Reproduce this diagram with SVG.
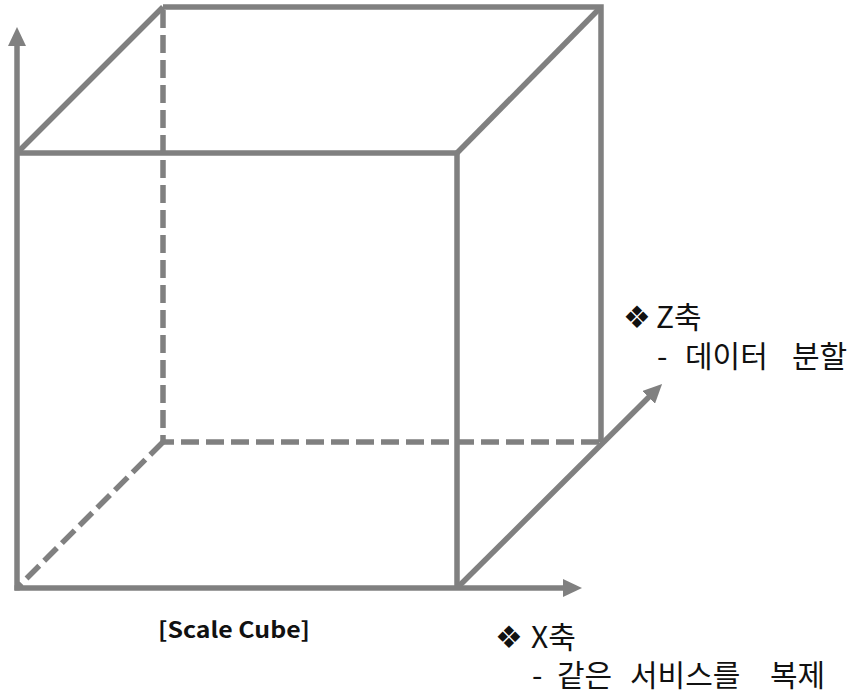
<svg xmlns="http://www.w3.org/2000/svg" width="856" height="694" viewBox="0 0 856 694">
  <style>
    .edge { stroke: #808080; stroke-width: 5.5; fill: none; stroke-linecap: butt; stroke-linejoin: miter; }
    .dash { stroke-dasharray: 18 7; }
    .lbl { font-family: "Noto Sans CJK KR", "Noto Sans", sans-serif; font-size: 30px; fill: #111; }
    .sym { font-family: "DejaVu Sans", sans-serif; font-size: 31px; }
    .title { font-family: "Noto Sans CJK KR", "Noto Sans", sans-serif; font-size: 22px; font-weight: bold; fill: #111; }
  </style>
  <defs>
    <marker id="arrow" markerUnits="userSpaceOnUse" viewBox="0 0 19 18" markerWidth="19" markerHeight="18" refX="9" refY="9" orient="auto">
      <polygon points="0,0 19,9 0,18" fill="#808080"/>
    </marker>
  </defs>
  <rect width="856" height="694" fill="#ffffff"/>

  <g id="cube">
    <g id="back-face">
      <path class="edge" d="M163,7 H601 V442"/>
      <path class="edge dash" d="M163,10 V442 H601"/>
      <path class="edge dash" d="M163,442 L17,588"/>
    </g>
    <g id="front-face">
      <path class="edge" d="M17,153 H457 V588"/>
      <path class="edge" d="M17,153 L163,7"/>
      <path class="edge" d="M457,153 L601,7"/>
    </g>
  </g>

  <g id="connectors">
    <line class="edge" x1="17" y1="590.5" x2="17" y2="37" marker-end="url(#arrow)"/>
    <line class="edge" x1="14.5" y1="588" x2="572" y2="588" marker-end="url(#arrow)"/>
    <line class="edge" x1="457" y1="588" x2="655" y2="391" marker-end="url(#arrow)"/>
  </g>

  <g id="z-axis-label">
    <text class="lbl" y="328"><tspan class="sym" x="623">❖</tspan><tspan x="656">Z축</tspan></text>
    <text class="lbl" y="367"><tspan x="657">-</tspan><tspan x="685">데이터</tspan><tspan x="792">분할</tspan></text>
  </g>

  <g id="x-axis-label">
    <text class="lbl" y="648"><tspan class="sym" x="495">❖</tspan><tspan x="531">X축</tspan></text>
    <text class="lbl" y="686"><tspan x="532">-</tspan><tspan x="557">같은</tspan><tspan x="630">서비스를</tspan><tspan x="770">복제</tspan></text>
  </g>

  <g id="caption">
    <text class="title" x="158" y="638" textLength="152" lengthAdjust="spacingAndGlyphs">[Scale Cube]</text>
  </g>
</svg>
